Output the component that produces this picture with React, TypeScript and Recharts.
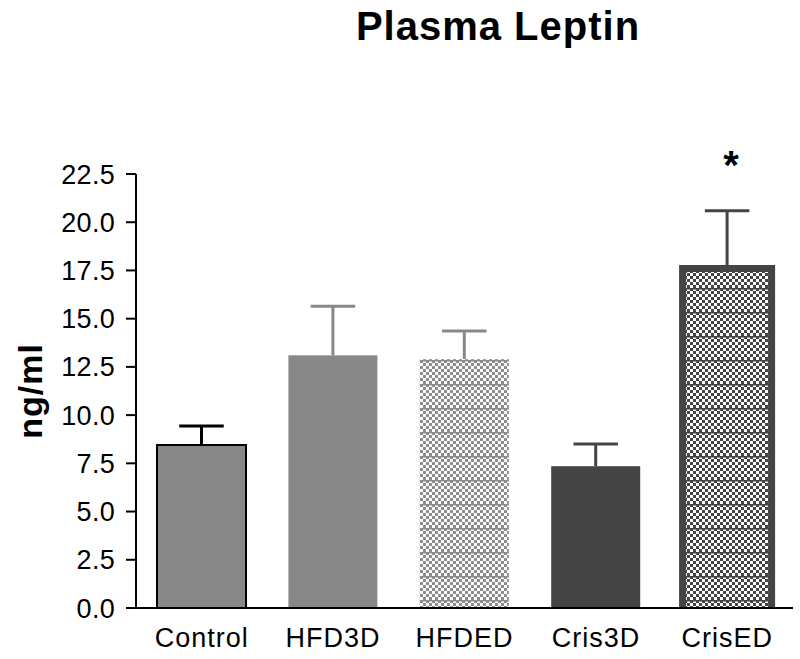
import React from "react";
import { BarChart, Bar, XAxis, YAxis, Label } from "recharts";

// Plasma Leptin — group means with upward SEM whiskers

const categories = ["Control", "HFD3D", "HFDED", "Cris3D", "CrisED"];
const means = [8.45, 13.1, 12.9, 7.35, 17.6];
const sems = [0.98, 2.55, 1.46, 1.15, 3.0];
const marks = ["", "", "", "", "*"];
const yTicks = [0, 2.5, 5, 7.5, 10, 12.5, 15, 17.5, 20, 22.5];

const chartData = categories.map((name, i) => ({
  name,
  mean: means[i],
  sem: sems[i],
  mark: marks[i],
}));

const FONT = "'Liberation Sans', Arial, sans-serif";

const barStyles = [
  { fill: "#888888", stroke: "#000000", strokeWidth: 2, err: "#000000" },
  { fill: "#888888", stroke: "none", strokeWidth: 0, err: "#888888" },
  { fill: "url(#checkLight)", stroke: "none", strokeWidth: 0, err: "#888888" },
  { fill: "#444444", stroke: "none", strokeWidth: 0, err: "#444444" },
  { fill: "url(#checkDark)", stroke: "#444444", strokeWidth: 7, err: "#444444" },
];

function CheckerPattern({ id, color }: { id: string; color: string }) {
  const rows = [0, 1, 2, 3, 4, 5, 6, 7];
  return (
    <pattern id={id} width={6} height={24} patternUnits="userSpaceOnUse">
      <rect width={6} height={24} fill="#ffffff" />
      {rows.map((r) => (
        <rect key={r} x={r % 2 === 0 ? 0 : 3} y={r * 3} width={3} height={3} fill={color} />
      ))}
      <rect x={0} y={0} width={6} height={1.5} fill={color} />
    </pattern>
  );
}

function BarWithError(props: any) {
  const { x, y, width, height, payload, index } = props;
  const s = barStyles[index];
  const perUnit = height / payload.mean;
  const top = y - payload.sem * perUnit;
  const cx = x + width / 2;
  const capHalf = width / 4;
  const outline = `M${x},${y + height} L${x},${y} L${x + width},${y} L${x + width},${y + height}`;
  return (
    <g>
      <line x1={cx} x2={cx} y1={y} y2={top} stroke={s.err} strokeWidth={3} />
      <line x1={cx - capHalf} x2={cx + capHalf} y1={top} y2={top} stroke={s.err} strokeWidth={3} />
      <rect x={x} y={y} width={width} height={height} fill={s.fill} />
      {s.strokeWidth > 0 ? (
        <path d={outline} fill="none" stroke={s.stroke} strokeWidth={s.strokeWidth} />
      ) : null}
      {payload.mark ? (
        <text
          x={cx + 4}
          y={top - 32}
          textAnchor="middle"
          fontFamily={FONT}
          fontWeight="bold"
          fontSize={40}
          fill="#000"
        >
          {payload.mark}
        </text>
      ) : null}
    </g>
  );
}

export default function App() {
  return (
    <div style={{ position: "absolute", left: 0, top: 0, width: 800, height: 659, background: "#fff" }}>
      <div
        style={{
          position: "absolute",
          left: 298,
          top: 6,
          width: 400,
          textAlign: "center",
          fontFamily: FONT,
          fontWeight: "bold",
          fontSize: 40,
          lineHeight: "40px",
          letterSpacing: 1,
          color: "#000",
        }}
      >
        Plasma Leptin
      </div>
      <BarChart
        width={800}
        height={659}
        data={chartData}
        margin={{ top: 174, right: 7, bottom: 6, left: 0 }}
        barSize={89}
      >
        <defs>
          <CheckerPattern id="checkLight" color="#8c8c8c" />
          <CheckerPattern id="checkDark" color="#444444" />
        </defs>
        <XAxis
          dataKey="name"
          height={45}
          tickLine={false}
          tickSize={0}
          tickMargin={20}
          axisLine={{ stroke: "#000", strokeWidth: 2 }}
          tick={{ fill: "#000", fontSize: 27, fontFamily: FONT, letterSpacing: 1 }}
        />
        <YAxis
          width={136}
          domain={[0, 22.5]}
          ticks={yTicks}
          interval={0}
          tickFormatter={(v: number) => v.toFixed(1)}
          tickSize={10}
          tickMargin={11}
          tickLine={{ stroke: "#000", strokeWidth: 2 }}
          axisLine={{ stroke: "#000", strokeWidth: 2 }}
          tick={{ fill: "#000", fontSize: 27, fontFamily: FONT, letterSpacing: 0.3 }}
        >
          <Label
            value="ng/ml"
            angle={-90}
            position="insideLeft"
            offset={30}
            textAnchor="middle"
            style={{ fontFamily: FONT, fontWeight: "bold", fontSize: 34, fill: "#000", letterSpacing: 1 }}
          />
        </YAxis>
        <Bar dataKey="mean" shape={BarWithError} isAnimationActive={false} />
      </BarChart>
    </div>
  );
}
